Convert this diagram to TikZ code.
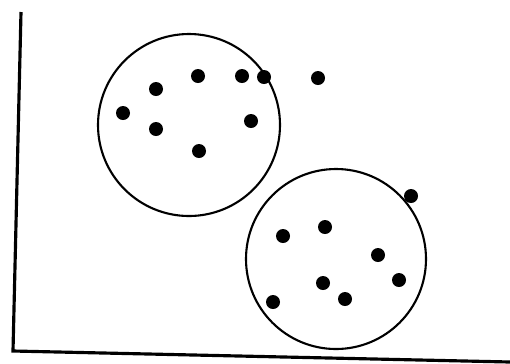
\documentclass[tikz,border=0pt]{standalone}

\begin{document}
\begin{tikzpicture}[
  x=0.02cm, y=-0.02cm,
  cadre/.style={line width=1.8pt},
  classe/.style={line width=1.2pt},
  point/.style={black},
]
  \useasboundingbox (0,0) rectangle (510,363);

  % Coordonnees
  \coordinate (hg) at (21,12);    % haut gauche
  \coordinate (bg) at (13,351);   % bas gauche
  \coordinate (bd) at (510,362);  % bas droite
  \coordinate (c1) at (189,125);  % centre premier amas
  \coordinate (c2) at (336,259);  % centre second amas

  % Cadre
  \draw[cadre] (hg) -- (bg) -- (bd);

  % Amas (cercles)
  \draw[classe] (c1) circle (91);
  \draw[classe] (c2) circle (90);

  % Points
  \foreach \x/\y in {198/76, 242/76, 264/77, 318/78, 156/89, 123/113,
                     251/121, 156/129, 199/151, 411/196, 325/227, 283/236,
                     378/255, 399/280, 323/283, 345/299, 273/302}
    \fill[point] (\x,\y) circle (7);
\end{tikzpicture}
\end{document}
